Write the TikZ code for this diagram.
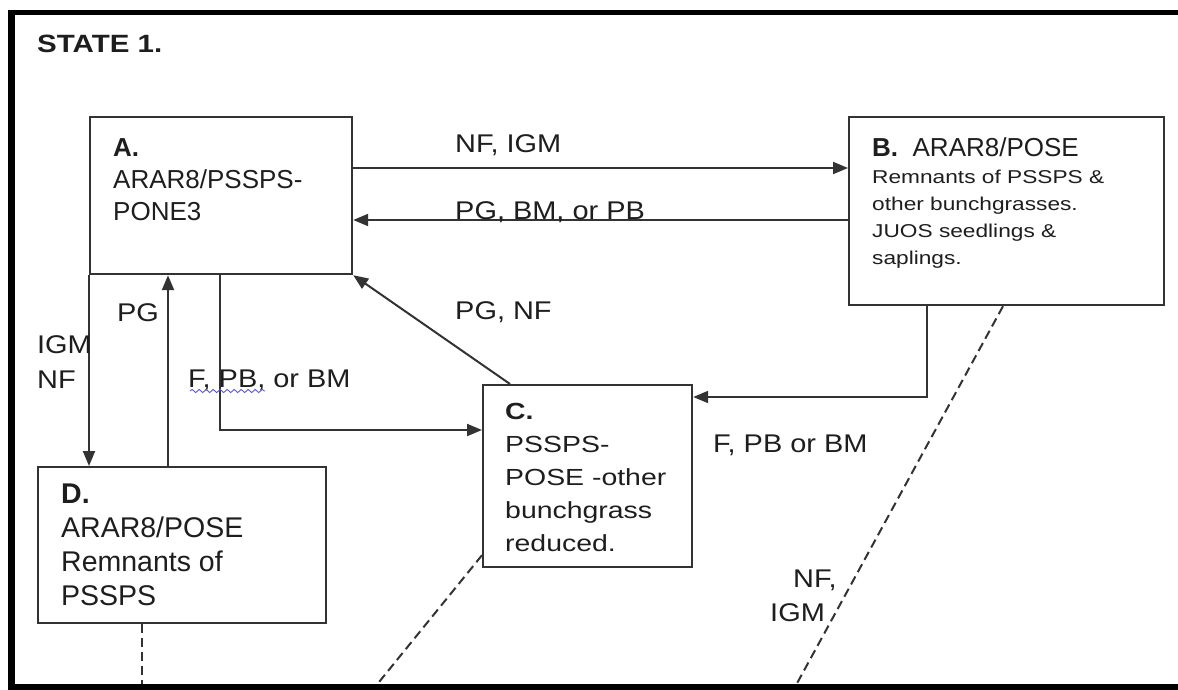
\documentclass[tikz,border=0pt]{standalone}
\usepackage{fontspec}
\setmainfont{Liberation Sans}
\newfontfamily\fN{Liberation Sans}
\newfontfamily\fL[FakeStretch=1.13]{Liberation Sans}
\newfontfamily\fB[FakeStretch=1.22]{Liberation Sans}
\newfontfamily\fT[FakeStretch=1.18]{Liberation Sans}
\usetikzlibrary{arrows.meta,calc,decorations.pathmorphing}
\definecolor{lc}{HTML}{333333}
\definecolor{tc}{HTML}{1E1E1E}
\definecolor{sq}{HTML}{5A5ACF}
\tikzset{
  box/.style={draw=lc, line width=2.2pt, anchor=north west, inner sep=0pt, fill=white},
  txt/.style={anchor=north west, inner sep=0pt, align=left, text=tc},
  lbl/.style={txt, font=\fL\fontsize{25.6pt}{35pt}\selectfont},
  conn/.style={draw=lc, line width=2pt},
  arr/.style={conn, -{Triangle[length=15pt,width=12pt]}},
  dsh/.style={draw=lc, line width=2pt, dash pattern=on 9pt off 5pt},
  frame/.style={draw=black}
}
\begin{document}
\begin{tikzpicture}[x=1pt,y=-1pt]
\useasboundingbox (0,0) rectangle (1178,690);
\fill[white] (0,0) rectangle (1178,690);
% boxes
\node[box, minimum width=262pt, minimum height=157pt] (A) at (89,116) {};
\node[box, minimum width=315pt, minimum height=188pt] (B) at (848,116) {};
\node[box, minimum width=209pt, minimum height=182pt] (C) at (482,384) {};
\node[box, minimum width=288pt, minimum height=156pt] (D) at (37,466) {};
% reference points
\coordinate (bot) at (0,687);
\coordinate (pgs) at ($(D.north west)+(131,0)$);
\coordinate (fst) at ($(A.south west)+(131,0)$);
\coordinate (bst) at ($(B.south west)+(79,0)$);
\coordinate (ds1) at ($(D.south west)+(105,0)$);
\coordinate (ds2) at ($(C.south west)+(0,-13)$);
\coordinate (ds3) at ($(B.south west)+(155,0)$);
\coordinate (e1) at (ds1 |- bot);
\coordinate (e2) at (375,687);
\coordinate (e3) at (795,687);
% box texts
\node[txt, font=\fT\bfseries\fontsize{25pt}{30pt}\selectfont] (title) at (37,35) {STATE 1.};
\node[txt, font=\fN\fontsize{26pt}{32pt}\selectfont] (At) at (113,138) {\textbf{A.}\\ARAR8/PSSPS-\\PONE3};
\node[txt, font=\fN\fontsize{26pt}{32pt}\selectfont] (Bt) at (872,137) {\textbf{B.}\ \ ARAR8/POSE};
\node[txt, font=\fB\fontsize{18.6pt}{27pt}\selectfont] (Bb) at (872,169.5) {Remnants of PSSPS \&\\other bunchgrasses.\\JUOS seedlings \&\\saplings.};
\node[txt, font=\fB\fontsize{23.3pt}{33pt}\selectfont] (Ct) at (505,403) {\textbf{C.}\\PSSPS-\\POSE -other\\bunchgrass\\reduced.};
\node[txt, font=\fN\fontsize{28.5pt}{34pt}\selectfont] (Dt) at (61,484) {\textbf{D.}\\ARAR8/POSE\\Remnants of\\PSSPS};
% connectors
\draw[arr] ($(A.north east)+(0,52)$) -- ($(B.north west)+(0,52)$);
\draw[arr] ($(B.north west)+(0,104)$) -- ($(A.north east)+(0,104)$);
\draw[arr] (A.south west) -- (A.south west |- D.north);
\draw[arr] (pgs) -- (pgs |- A.south);
\draw[arr] (fst) |- ($(C.north west)+(0,46)$);
\draw[arr] (bst) |- ($(C.north east)+(0,13)$);
\draw[arr] ($(C.north west)+(28,0)$) -- (A.south east);
% dashed transitions to frame
\draw[dsh] (ds1) -- (e1);
\draw[dsh] (ds2) -- (e2);
\draw[dsh] (ds3) -- (e3);
% labels
\node[lbl] (l1) at (455,134) {NF, IGM};
\node[lbl] (l2) at (455,201.7) {PG, BM, or PB};
\node[lbl] (l3) at (455,301) {PG, NF};
\node[lbl] (l4) at (117,303) {PG};
\node[lbl] (l5) at (37,335) {IGM\\NF};
\node[lbl] (l6) at (188,370) {F, PB, or BM};
\node[lbl] (l7) at (713,435) {F, PB or BM};
\node[lbl] (l8) at (793,570) {NF,};
\node[lbl] (l9) at (770,603) {IGM};
% spell-check squiggle
\draw[sq, line width=0.9pt, decorate, decoration={snake, amplitude=1.6pt, segment length=7pt}] (190,391) -- (265,391);
% outer frame (open on the right)
\draw[frame, line width=5pt] (1190,12.5) -- (8,12.5);
\draw[frame, line width=7pt] (11,10) -- (11,690);
\draw[frame, line width=6pt] (8,687) -- (1190,687);
\end{tikzpicture}
\end{document}
